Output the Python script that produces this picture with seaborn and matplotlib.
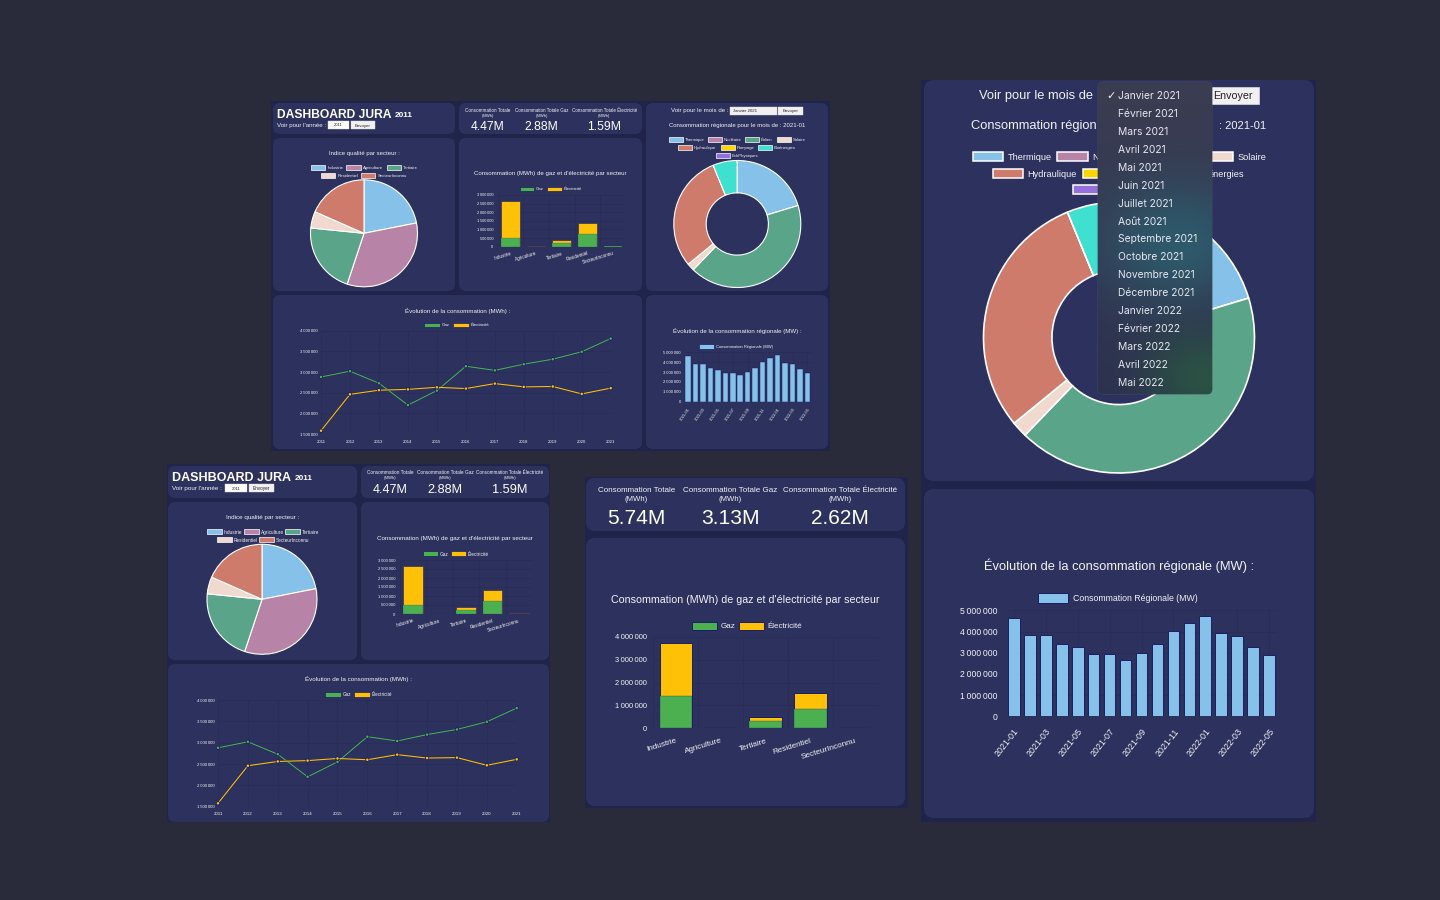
#!/usr/bin/env python
# -*- coding: utf-8 -*-
import numpy as np
import matplotlib
matplotlib.use("Agg")
import matplotlib.pyplot as plt
import matplotlib.patheffects as pe
from matplotlib.patches import FancyBboxPatch, Rectangle
from matplotlib.ticker import FuncFormatter
import seaborn as sns

# donnees
secteurs = ["Industrie", "Agriculture", "Tertiaire", "Residentiel", "SecteurInconnu"]
qualite = [21.9, 33.2, 21.5, 5.0, 18.4]
gaz_2011 = [480000, 8000, 210000, 740000, 20000]
elec_2011 = [2170000, 4000, 180000, 610000, 8000]
gaz_2021 = [1410000, 15000, 320000, 840000, 15000]
elec_2021 = [2300000, 8000, 160000, 690000, 8000]

annees = [2011, 2012, 2013, 2014, 2015, 2016, 2017, 2018, 2019, 2020, 2021]
gaz_evol = [2880000, 3020000, 2730000, 2200000, 2550000, 3140000, 3040000, 3190000, 3310000, 3490000, 3810000]
elec_evol = [1580000, 2460000, 2560000, 2580000, 2630000, 2600000, 2720000, 2640000, 2650000, 2470000, 2610000]

filieres = ["Thermique", "Nucléaire", "Éolien", "Solaire", "Hydraulique", "Pompage", "Bioénergies", "EchPhysiques"]
conso_filiere = [20.3, 0, 41.9, 1.9, 29.7, 0, 6.2, 0]

mois_codes = ["2021-01", "2021-02", "2021-03", "2021-04", "2021-05", "2021-06", "2021-07", "2021-08", "2021-09",
              "2021-10", "2021-11", "2021-12", "2022-01", "2022-02", "2022-03", "2022-04", "2022-05"]
conso_regionale = [4650000, 3820000, 3840000, 3400000, 3250000, 2940000, 2920000, 2660000, 2970000,
                   3410000, 4040000, 4420000, 4720000, 3920000, 3770000, 3290000, 2880000]

mois_menu = ["Janvier 2021", "Février 2021", "Mars 2021", "Avril 2021", "Mai 2021", "Juin 2021", "Juillet 2021",
             "Août 2021", "Septembre 2021", "Octobre 2021", "Novembre 2021", "Décembre 2021", "Janvier 2022",
             "Février 2022", "Mars 2022", "Avril 2022", "Mai 2022"]

kpi_labels = ["Consommation Totale", "Consommation Totale Gaz", "Consommation Totale Électricité"]
kpi_2011 = ["4.47M", "2.88M", "1.59M"]
kpi_2021 = ["5.74M", "3.13M", "2.62M"]

# couleurs
FOND = "#292b3a"
SOMBRE = "#20234a"
CARTE = "#2d315d"
NAVY = "#1b1f66"
GRILLE = "#292c55"
VERT = "#4caf50"
JAUNE = "#ffc107"
BLEU = "#85c1e9"
TEXTE = "#f2f2f6"
couleurs_secteur = sns.color_palette(["#85c1e9", "#b784a7", "#5aa58a", "#f0d9cf", "#cf7b6b"])
couleurs_filiere = sns.color_palette(["#85c1e9", "#b784a7", "#5aa58a", "#f0d9cf", "#cf7b6b", "#ffd700", "#40e0d0", "#9370db"])

W, H = 1440, 900
sns.set_theme(style="dark")
plt.rcParams["font.family"] = ["Liberation Sans", "DejaVu Sans"]

fig = plt.figure(figsize=(W / 100, H / 100), dpi=100, facecolor=FOND)
renderer = fig.canvas.get_renderer()

# axe de fond en pixels
bg = fig.add_axes([0, 0, 1, 1], zorder=0)
bg.set_xlim(0, W)
bg.set_ylim(H, 0)
bg.axis("off")


def px_axes(l, t, r, b):
    ax = fig.add_axes([l / W, 1 - b / H, (r - l) / W, (b - t) / H], zorder=1)
    ax.patch.set_alpha(0)
    return ax


def carte(l, t, r, b, rayon=7, couleur=CARTE, ax=bg, z=1, **kw):
    p = FancyBboxPatch((l + rayon, t + rayon), r - l - 2 * rayon, b - t - 2 * rayon,
                       boxstyle=f"round,pad={rayon},rounding_size={rayon}",
                       facecolor=couleur, edgecolor=kw.pop("edgecolor", "none"),
                       linewidth=kw.pop("linewidth", 0), zorder=z, **kw)
    ax.add_patch(p)
    return p


def txt(x, y, s, fs=None, width=None, ax=bg, ha="center", color=TEXTE, weight="normal", z=5):
    t = ax.text(x, y, s, fontsize=fs or 10, ha=ha, va="center_baseline", color=color, fontweight=weight, zorder=z)
    if width is not None:
        # taille ajustee a la largeur mesuree
        w0 = t.get_window_extent(renderer).width
        t.set_fontsize(t.get_fontsize() * width / w0)
    return t


def legende(items, y, box_w, box_h, fs, bord="white", lw=0.5, gap=None, ax=bg):
    gap = box_w * 0.15 if gap is None else gap
    for x, label, couleur in items:
        ax.add_patch(Rectangle((x, y - box_h / 2), box_w, box_h, facecolor=couleur, edgecolor=bord, linewidth=lw, zorder=4))
        if label:
            txt(x + box_w + gap, y, label, fs=fs, ha="left", ax=ax)


def bouton(l, t, r, b, s, fs, couleur="#f0f0f0"):
    bg.add_patch(Rectangle((l, t), r - l, b - t, facecolor=couleur, edgecolor="#dddddd", linewidth=0.3, zorder=4))
    if s:
        txt((l + r) / 2, (t + b) / 2, s, fs=fs, color="#222222")


def format_axe(v, pos=None):
    return f"{int(v):,}".replace(",", "\u202f")


def style_axe(ax, ymax, step, yfs, xfs, ypad, xpad, ymin=0):
    ax.set_ylim(ymin, ymax)
    ax.set_yticks(np.arange(ymin, ymax + 1, step))
    ax.yaxis.set_major_formatter(FuncFormatter(format_axe))
    ax.tick_params(axis="y", labelsize=yfs, labelcolor=TEXTE, length=0, pad=ypad)
    ax.tick_params(axis="x", labelsize=xfs, labelcolor=TEXTE, length=0, pad=xpad)
    ax.set_xlabel("")
    ax.set_ylabel("")
    ax.grid(True, axis="y", color=GRILLE, linewidth=0.5)
    sns.despine(ax=ax, left=True, bottom=True)
    ax.set_axisbelow(True)


def barres_secteur(box, gaz, elec, ymax, step, yfs, xfs, lw, ypad, xpad):
    ax = px_axes(*box)
    total = np.array(gaz) + np.array(elec)
    sns.barplot(x=secteurs, y=total, color=JAUNE, saturation=1, width=0.72, edgecolor=NAVY, linewidth=lw, ax=ax)
    sns.barplot(x=secteurs, y=gaz, color=VERT, saturation=1, width=0.72, edgecolor=NAVY, linewidth=lw * 0.3, ax=ax)
    style_axe(ax, ymax, step, yfs, xfs, ypad, xpad)
    ax.set_xlim(-0.5, 4.5)
    ax.set_xticks(np.arange(-0.5, 5), minor=True)
    ax.grid(True, which="minor", axis="x", color=GRILLE, linewidth=0.5)
    ax.tick_params(which="minor", length=0)
    plt.setp(ax.get_xticklabels(), rotation=17, ha="right", rotation_mode="anchor")
    return ax


def courbes(box, yfs, xfs, lw, ms, ypad, xpad):
    ax = px_axes(*box)
    sns.lineplot(x=annees, y=gaz_evol, color=VERT, linewidth=lw, marker="o", markersize=ms, markeredgewidth=0, ax=ax, clip_on=False)
    sns.lineplot(x=annees, y=elec_evol, color=JAUNE, linewidth=lw, marker="o", markersize=ms, markeredgewidth=0, ax=ax, clip_on=False)
    for ligne in ax.lines:
        ligne.set_path_effects([pe.Stroke(linewidth=lw + 0.4, foreground=NAVY), pe.Normal()])
    style_axe(ax, 4000000, 500000, yfs, xfs, ypad, xpad, ymin=1500000)
    ax.set_xlim(annees[0], annees[-1])
    ax.set_xticks(annees)
    ax.grid(True, axis="x", color=GRILLE, linewidth=0.5)
    return ax


def barres_regionales(box, yfs, xfs, lw, rot, ypad, xpad):
    ax = px_axes(*box)
    sns.barplot(x=mois_codes, y=conso_regionale, color=BLEU, saturation=1, width=0.74, edgecolor=NAVY, linewidth=lw, ax=ax)
    style_axe(ax, 5000000, 1000000, yfs, xfs, ypad, xpad)
    ax.set_xlim(-0.5, len(mois_codes) - 0.5)
    ax.set_xticks(range(0, len(mois_codes), 2))
    ax.set_xticklabels(mois_codes[::2], rotation=rot, ha="right", rotation_mode="anchor")
    ax.grid(True, axis="x", color=GRILLE, linewidth=0.5)
    return ax


def camembert(cx, cy, r, valeurs, couleurs, lw, trou=None):
    ax = px_axes(cx - r, cy - r, cx + r, cy + r)
    wp = {"edgecolor": "white", "linewidth": lw, "clip_on": False}
    if trou:
        wp["width"] = 1 - trou
    ax.pie(valeurs, colors=couleurs, startangle=90, counterclock=False, radius=1, wedgeprops=wp)
    ax.set_xlim(-1, 1)
    ax.set_ylim(-1, 1)
    return ax


# blocs de fond
for x0, y0, larg, haut in [(271, 101, 559, 350), (167, 464, 383, 358), (585, 477, 323, 331), (921, 80, 395, 742)]:
    bg.add_patch(Rectangle((x0, y0), larg, haut, facecolor=SOMBRE, edgecolor="none", linewidth=0, zorder=0))

# ---- dashboard 2011 haut ----
for box in [(273, 103, 455, 134), (459, 103, 642, 134), (646, 103, 828, 291), (273, 138, 455, 291),
            (459, 138, 642, 291), (273, 295, 642, 449), (646, 295, 828, 449)]:
    carte(*box)

txt(277, 114, "DASHBOARD JURA", width=115, ha="left", color="white", weight="bold")
txt(394.5, 114.5, "2011", width=18, ha="left", color="white", weight="bold")
txt(277, 124.8, "Voir pour l'année :", width=49, ha="left")
bouton(328, 121, 349, 129, "2011", 3.0, "white")
bouton(351, 121, 375, 129, "Envoyer", 3.2)

for cx, label, val, w in zip([488, 541.7, 604.3], kpi_labels, kpi_2011, [44.7, 54, 65]):
    txt(cx, 110.3, label, width=w)
    txt(cx, 115.3, "(MWh)", fs=3.0)
    txt(cx, 125.3, val, width=33.7, color="white")

txt(364, 152.7, "Indice qualité par secteur :", width=71)
legende([(310.7, secteurs[0], couleurs_secteur[0]), (346.3, secteurs[1], couleurs_secteur[1]), (386.5, secteurs[2], couleurs_secteur[2])],
        167.3, 14.3, 4.7, 3.1)
legende([(320.7, secteurs[3], couleurs_secteur[3]), (361, secteurs[4], couleurs_secteur[4])], 175.3, 14.3, 4.7, 3.1)
camembert(364, 233.3, 53.5, qualite, couleurs_secteur, 0.8)

txt(550.3, 173.3, "Consommation (MWh) de gaz et d'électricité par secteur", width=152)
legende([(519.7, "Gaz", VERT), (547.3, "Électricité", JAUNE)], 189, 14.3, 4.7, 3.1, bord=NAVY)
barres_secteur((497.5, 195, 626, 246.7), gaz_2011, elec_2011, 3000000, 500000, 2.9, 3.3, 0.4, 3, 3)

txt(671.3, 110.3, "Voir pour le mois de :", width=58, ha="left")
bouton(730.3, 107, 776.7, 114.7, "", 3)
txt(733, 110.8, "Janvier 2021", fs=3.1, ha="left", color="#222222")
bouton(778, 107, 803, 114.7, "Envoyer", 3.2)
txt(736.8, 125, "Consommation régionale pour le mois de : 2021-01", width=138)
legende([(668.7, filieres[0], couleurs_filiere[0]), (708, filieres[1], couleurs_filiere[1]), (745, filieres[2], couleurs_filiere[2]), (777, filieres[3], couleurs_filiere[3])],
        139.7, 14, 4.7, 3.1, gap=2)
legende([(678.3, filieres[4], couleurs_filiere[4]), (721, filieres[5], couleurs_filiere[5]), (758.3, filieres[6], couleurs_filiere[6])],
        147.7, 13.5, 4.7, 3.1, gap=2)
legende([(715.7, filieres[7], couleurs_filiere[7])], 155.3, 14.3, 4.7, 3.1, gap=2)
camembert(737.3, 224, 63.5, conso_filiere, couleurs_filiere, 0.8, trou=0.49)

txt(457.3, 310, "Évolution de la consommation (MWh) :", width=105)
legende([(424.3, "Gaz", VERT), (452.9, "Électricité", JAUNE)], 325, 15.7, 4.9, 3.2, bord=NAVY, gap=2)
courbes((321, 330.7, 610.7, 434), 3.1, 3.1, 0.8, 1.8, 2.5, 4)

txt(737, 330.7, "Évolution de la consommation régionale (MW) :", width=128.5)
legende([(699.3, "Consommation Régionale (MW)", BLEU)], 346.3, 14.3, 4.7, 2.9, bord=NAVY, gap=2)
barres_regionales((684.2, 352.3, 811.2, 401.7), 3.1, 3.0, 0.35, 55, 2.5, 4)

# ---- dashboard 2011 bas ----
for box in [(168, 466, 357, 498), (361, 466, 549, 498), (168, 502, 357, 660), (361, 502, 549, 660), (168, 664, 549, 822)]:
    carte(*box)

txt(172.3, 476.3, "DASHBOARD JURA", width=118.7, ha="left", color="white", weight="bold")
txt(294.7, 477, "2011", width=18, ha="left", color="white", weight="bold")
txt(172.3, 488, "Voir pour l'année :", width=50, ha="left")
bouton(225.3, 484.3, 246.7, 491.7, "2011", 3.0, "white")
bouton(248.7, 484.3, 274, 491.7, "Envoyer", 3.3)

for cx, label, val, w in zip([390, 445.3, 510], kpi_labels, kpi_2011, [46, 55.5, 67]):
    txt(cx, 472.3, label, width=w)
    txt(cx, 477.7, "(MWh)", fs=3.1)
    txt(cx, 488.7, val, width=35, color="white")

txt(262.3, 516.7, "Indice qualité par secteur :", width=73.7)
legende([(207.3, secteurs[0], couleurs_secteur[0]), (244, secteurs[1], couleurs_secteur[1]), (285, secteurs[2], couleurs_secteur[2])],
        531.7, 15, 5.3, 3.4, gap=1.8)
legende([(217.3, secteurs[3], couleurs_secteur[3]), (259.3, secteurs[4], couleurs_secteur[4])], 539.7, 15, 5.3, 3.4, gap=1.8)
camembert(262, 599.3, 55, qualite, couleurs_secteur, 0.8)

txt(454.5, 538, "Consommation (MWh) de gaz et d'électricité par secteur", width=156)
legende([(423, "Gaz", VERT), (451, "Électricité", JAUNE)], 553.7, 14.5, 5, 3.4, bord=NAVY, gap=2)
barres_secteur((399.7, 560, 532.3, 614), gaz_2011, elec_2011, 3000000, 500000, 3.0, 3.4, 0.4, 3, 3)

txt(358.5, 679, "Évolution de la consommation (MWh) :", width=108)
legende([(325, "Gaz", VERT), (354, "Électricité", JAUNE)], 694.3, 15.7, 5, 3.3, bord=NAVY, gap=2)
courbes((218, 700, 516.7, 806.7), 3.1, 3.2, 0.8, 1.8, 2.5, 4)

# ---- detail 2021 centre ----
for box in [(586, 478, 905, 531), (586, 538, 905, 806)]:
    carte(*box, rayon=9)
for cx, label, val, w in zip([636.3, 730.3, 839.7], kpi_labels, kpi_2021, [77, 94, 114]):
    txt(cx, 489.3, label, width=w)
    txt(cx, 498.7, "(MWh)", fs=5.6)
    txt(cx, 516, val, width=58.3, color="white")

txt(745.7, 599.3, "Consommation (MWh) de gaz et d'électricité par secteur", width=264.7)
legende([(692.3, "Gaz", VERT), (739.3, "Électricité", JAUNE)], 626, 24.4, 8.4, 5.8, bord=NAVY, lw=0.7, gap=3.5)
barres_secteur((653.3, 636.7, 877.7, 728.3), gaz_2021, elec_2021, 4000000, 1000000, 5.4, 5.9, 0.7, 4.5, 6.5)

# ---- detail 2021 droite ----
for box in [(924, 80, 1314, 481), (924, 489, 1314, 818)]:
    carte(*box, rayon=10)

# le menu cache une partie des textes : seuls les morceaux visibles sont ecrits
txt(979, 94, "Voir pour le mois de", width=114, ha="left")
bg.add_patch(Rectangle((1206, 87), 52.7, 16.7, facecolor="#f0f0f0", edgecolor="#dddddd", linewidth=0.5, zorder=4))
txt(1233, 95, "Envoyer", width=39.4, color="#222222")
txt(971, 124.7, "Consommation région", width=126, ha="left")
txt(1265.7, 124.7, ": 2021-01", width=47, ha="right")
legende([(972.7, filieres[0], couleurs_filiere[0]), (1057.3, "N", couleurs_filiere[1]), (1202.7, filieres[3], couleurs_filiere[3])],
        156.7, 30.6, 9.6, 6.7, lw=1.1, gap=4.2)
legende([(992.7, filieres[4], couleurs_filiere[4]), (1082.7, "", couleurs_filiere[5])],
        173.3, 30.6, 9.6, 6.7, lw=1.1, gap=4.2)
txt(1244.5, 173.3, "énergies", fs=6.7, ha="right")
legende([(1073.3, "", couleurs_filiere[7])], 189.7, 30.6, 9.6, 6.7, lw=1.1, gap=4.2)
camembert(1119, 337.5, 135.5, conso_filiere, couleurs_filiere, 1.2, trou=0.495)

txt(1119.2, 564.7, "Évolution de la consommation régionale (MW) :", width=273)
legende([(1038.3, "Consommation Régionale (MW)", BLEU)], 597.7, 30, 9.8, 6.3, bord=NAVY, lw=0.7, gap=4.4)
barres_regionales((1005.7, 610.3, 1277.3, 716.3), 6.2, 6.4, 0.7, 52, 5.8, 7.5)

# ---- menu deroulant par dessus ----
top = fig.add_axes([0, 0, 1, 1], zorder=3)
top.set_xlim(0, W)
top.set_ylim(H, 0)
top.axis("off")
top.patch.set_alpha(0)

yy, xx = np.mgrid[0:1:160j, 0:1:80j]
base = np.array([0x3b, 0x3d, 0x51]) * (1 - yy[..., None]) + np.array([0x2d, 0x2f, 0x4f]) * yy[..., None]
teal = np.exp(-(((xx - 0.72) / 0.7) ** 2 + ((yy - 0.52) / 0.2) ** 2))[..., None]
vert = np.exp(-(((xx - 0.95) / 0.55) ** 2 + ((yy - 0.95) / 0.16) ** 2))[..., None]
degrade = base * (1 - teal) + np.array([0x2e, 0x5a, 0x6b]) * teal
degrade = degrade * (1 - vert) + np.array([0x2a, 0x52, 0x44]) * vert
menu = carte(1098, 82, 1212, 394, rayon=5, couleur="#3a3c50", ax=top, z=6, edgecolor="#4a4c5c", linewidth=0.6)
im = top.imshow(degrade / 255, extent=(1098, 1212, 394, 82), aspect="auto", zorder=6.5)
im.set_clip_path(menu)
top.set_xlim(0, W)
top.set_ylim(H, 0)

for i, m in enumerate(mois_menu):
    t = txt(1117.7, 95.3 + i * 17.9, m, fs=7.4, ax=top, ha="left", color="#e6e8ee", z=8)
    t.set_family("Inter")
top.text(1106, 95.5, "\u2713", fontsize=8, color="#f0f0f0", ha="left", va="center_baseline", family="DejaVu Sans", zorder=8)

fig.savefig("out.png", dpi=100, facecolor=FOND)
